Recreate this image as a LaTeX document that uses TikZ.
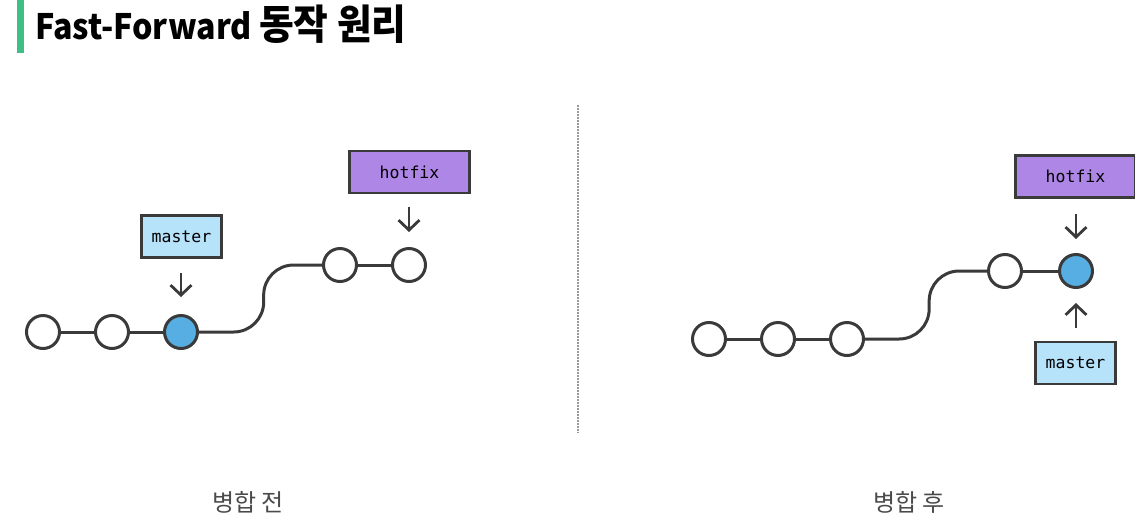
\documentclass[tikz,border=0pt]{standalone}
\usepackage{fontspec}
\usetikzlibrary{arrows.meta,calc}
\newfontfamily\cjk{Noto Sans CJK KR}
\newfontfamily\cjknarrow{Noto Sans CJK KR}[FakeStretch=0.92]
\newfontfamily\monof{DejaVu Sans Mono}
\definecolor{ink}{HTML}{3A3A3A}
\definecolor{bluefill}{HTML}{56AEE2}
\definecolor{masterfill}{HTML}{B6E2FA}
\definecolor{hotfixfill}{HTML}{AE86E6}
\definecolor{barcol}{HTML}{3FBF85}
\definecolor{captioncol}{HTML}{4A4A4A}
\tikzset{
  commit/.style={circle, draw=ink, line width=3pt, fill=white, minimum size=33pt, inner sep=0pt},
  head/.style={commit, fill=bluefill},
  edge/.style={draw=ink, line width=3pt},
  branch/.style={draw=ink, line width=2.4pt, font=\monof\fontsize{16.5}{19}\selectfont, inner sep=0pt},
  masterbox/.style={branch, fill=masterfill, minimum width=80pt, minimum height=42pt},
  hotfixbox/.style={branch, fill=hotfixfill, minimum width=120pt, minimum height=42pt},
  ptr/.style={draw=ink, line width=2.8pt, -{Straight Barb[length=10pt,width=21pt,line width=2.8pt]}},
  captext/.style={font=\cjk\fontsize{24}{28}\selectfont, text=captioncol}
}
\begin{document}
\begin{tikzpicture}[x=1pt,y=-1pt]
\useasboundingbox (0,0) rectangle (1135,520);
% title
\fill[barcol] (17,0) rectangle (24,53);
\node[anchor=base west, inner sep=0pt, font=\cjknarrow\bfseries\fontsize{35}{40}\selectfont] (title) at (35,39) {Fast-Forward {\fontsize{41}{46}\selectfont 동작 원리}};
% divider
\draw[gray!80, line width=1.2pt, dash pattern=on 1.5pt off 1.5pt] (578,105) -- (578,433);
% left diagram
\node[commit] (L1) at (43,332) {};
\node[commit] (L2) at (112,332) {};
\node[head] (L3) at (181,332) {};
\node[commit] (L4) at (340,265) {};
\node[commit] (L5) at (409,265) {};
\draw[edge] (L1) -- (L2);
\draw[edge] (L2) -- (L3);
\coordinate (LM0) at ($(L3)!0.52!(L4)$);
\draw[edge, rounded corners=30pt] (L3.east) -| (LM0 |- L4.west) -- (L4.west);
\draw[edge] (L4) -- (L5);
\node[masterbox] (LM) at (181.5,236.5) {master};
\node[hotfixbox] (LH) at (409.5,172) {hotfix};
\coordinate (LMa) at (181,273);
\coordinate (LMb) at (181,297);
\draw[ptr] (LMa) -- (LMb);
\coordinate (LHa) at (409,207);
\coordinate (LHb) at (409,232);
\draw[ptr] (LHa) -- (LHb);
\node[captext] (capL) at (248,502) {병합 전};
% right diagram
\node[commit] (R1) at (709,339) {};
\node[commit] (R2) at (778,339) {};
\node[commit] (R3) at (847,339) {};
\node[commit] (R4) at (1005,271) {};
\node[head] (R5) at (1076,271) {};
\draw[edge] (R1) -- (R2);
\draw[edge] (R2) -- (R3);
\coordinate (RM0) at ($(R3)!0.52!(R4)$);
\draw[edge, rounded corners=30pt] (R3.east) -| (RM0 |- R4.west) -- (R4.west);
\draw[edge] (R4) -- (R5);
\node[hotfixbox] (RH) at (1075.5,176.5) {hotfix};
\node[masterbox] (RM) at (1075.5,363) {master};
\coordinate (RHa) at (1076,214);
\coordinate (RHb) at (1076,239);
\draw[ptr] (RHa) -- (RHb);
\coordinate (RMa) at (1076,328);
\coordinate (RMb) at (1076,303);
\draw[ptr] (RMa) -- (RMb);
\node[captext] (capR) at (909,502) {병합 후};
\end{tikzpicture}
\end{document}
